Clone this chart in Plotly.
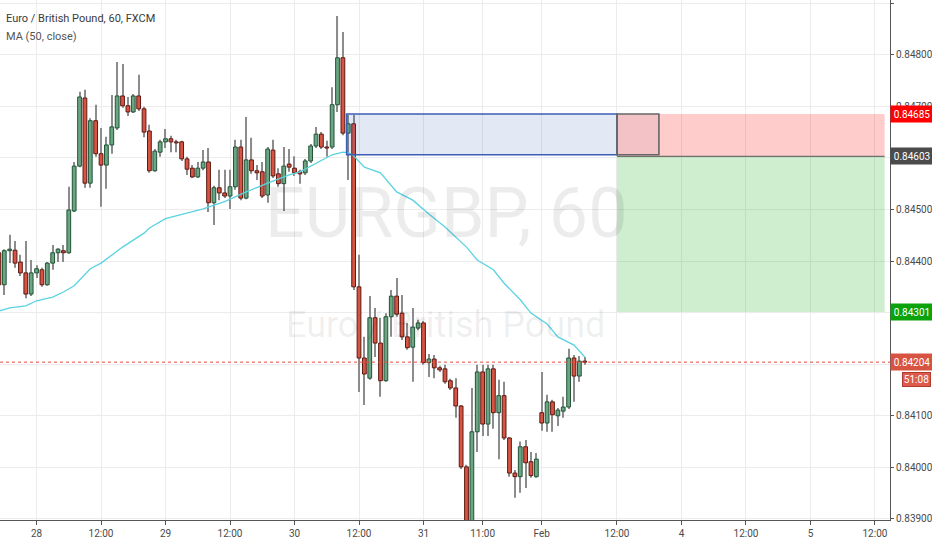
import plotly.graph_objects as go

# hourly EURGBP bars (bar index = hours on chart)
opens = [0.84416, 0.84354, 0.84420, 0.84421, 0.84398, 0.84377, 0.84336, 0.84377, 0.84383, 0.84354,
         0.84396, 0.84416, 0.84420, 0.84416, 0.84497, 0.84584, 0.84716, 0.84551, 0.84672, 0.84608,
         0.84586, 0.84625, 0.84658, 0.84720, 0.84701, 0.84689, 0.84720, 0.84695, 0.84652, 0.84575,
         0.84611, 0.84631, 0.84637, 0.84631, 0.84631, 0.84598, 0.84580, 0.84563, 0.84580, 0.84592,
         0.84513, 0.84542, 0.84532, 0.84526, 0.84544, 0.84621, 0.84522, 0.84596, 0.84575, 0.84573,
         0.84528, 0.84615, 0.84569, 0.84550, 0.84588, 0.84580, 0.84573, 0.84571, 0.84594, 0.84623,
         0.84646, 0.84621, 0.84621, 0.84703, 0.84794, 0.84648, 0.84666, 0.84350, 0.84212, 0.84173,
         0.84290, 0.84241, 0.84168, 0.84292, 0.84332, 0.84299, 0.84253, 0.84233, 0.84270, 0.84280,
         0.84203, 0.84210, 0.84193, 0.84191, 0.84168, 0.84154, 0.84119, 0.84001, 0.83870, 0.84069,
         0.84185, 0.84084, 0.84191, 0.84106, 0.84139, 0.84057, 0.83989, 0.83982, 0.84040, 0.84011,
         0.83982, 0.84106, 0.84086, 0.84127, 0.84100, 0.84109, 0.84117, 0.84212, 0.84177, 0.84206]
highs = [0.84421, 0.84423, 0.84451, 0.84439, 0.84412, 0.84439, 0.84402, 0.84392, 0.84387, 0.84398,
         0.84431, 0.84425, 0.84431, 0.84544, 0.84592, 0.84728, 0.84732, 0.84677, 0.84703, 0.84658,
         0.84641, 0.84722, 0.84786, 0.84782, 0.84718, 0.84724, 0.84761, 0.84699, 0.84664, 0.84617,
         0.84635, 0.84656, 0.84643, 0.84635, 0.84633, 0.84602, 0.84586, 0.84592, 0.84615, 0.84619,
         0.84546, 0.84577, 0.84577, 0.84577, 0.84635, 0.84635, 0.84679, 0.84639, 0.84586, 0.84592,
         0.84621, 0.84635, 0.84580, 0.84621, 0.84617, 0.84603, 0.84577, 0.84598, 0.84627, 0.84660,
         0.84650, 0.84633, 0.84737, 0.84875, 0.84844, 0.84683, 0.84683, 0.84412, 0.84253, 0.84332,
         0.84309, 0.84290, 0.84299, 0.84344, 0.84367, 0.84334, 0.84280, 0.84309, 0.84286, 0.84284,
         0.84220, 0.84218, 0.84197, 0.84199, 0.84172, 0.84173, 0.84121, 0.84005, 0.84154, 0.84199,
         0.84199, 0.84199, 0.84199, 0.84170, 0.84166, 0.84059, 0.83995, 0.84050, 0.84053, 0.84030,
         0.84028, 0.84185, 0.84141, 0.84131, 0.84115, 0.84137, 0.84230, 0.84218, 0.84216, 0.84214]
lows = [0.84344, 0.84334, 0.84396, 0.84387, 0.84371, 0.84328, 0.84332, 0.84367, 0.84350, 0.84352,
        0.84383, 0.84398, 0.84398, 0.84414, 0.84495, 0.84582, 0.84542, 0.84542, 0.84602, 0.84505,
        0.84540, 0.84608, 0.84654, 0.84697, 0.84681, 0.84687, 0.84691, 0.84640, 0.84571, 0.84573,
        0.84602, 0.84619, 0.84611, 0.84611, 0.84594, 0.84567, 0.84561, 0.84561, 0.84576, 0.84495,
        0.84470, 0.84518, 0.84522, 0.84501, 0.84538, 0.84518, 0.84520, 0.84569, 0.84557, 0.84522,
        0.84513, 0.84561, 0.84544, 0.84497, 0.84573, 0.84565, 0.84550, 0.84567, 0.84590, 0.84619,
        0.84617, 0.84602, 0.84617, 0.84689, 0.84644, 0.84557, 0.84344, 0.84146, 0.84121, 0.84170,
        0.84214, 0.84137, 0.84166, 0.84253, 0.84292, 0.84247, 0.84228, 0.84166, 0.84266, 0.84199,
        0.84175, 0.84173, 0.84185, 0.84162, 0.84150, 0.84096, 0.83997, 0.83840, 0.83850, 0.84030,
        0.84061, 0.84061, 0.84075, 0.84016, 0.84053, 0.83982, 0.83941, 0.83951, 0.83960, 0.83980,
        0.83980, 0.84071, 0.84069, 0.84069, 0.84080, 0.84096, 0.84113, 0.84127, 0.84166, 0.84199]
closes = [0.84354, 0.84420, 0.84423, 0.84396, 0.84377, 0.84336, 0.84377, 0.84385, 0.84354, 0.84396,
          0.84416, 0.84423, 0.84416, 0.84499, 0.84584, 0.84718, 0.84551, 0.84672, 0.84608, 0.84586,
          0.84625, 0.84660, 0.84720, 0.84701, 0.84689, 0.84720, 0.84695, 0.84650, 0.84575, 0.84613,
          0.84631, 0.84637, 0.84631, 0.84629, 0.84598, 0.84578, 0.84563, 0.84580, 0.84592, 0.84513,
          0.84542, 0.84532, 0.84526, 0.84544, 0.84621, 0.84522, 0.84596, 0.84575, 0.84571, 0.84526,
          0.84617, 0.84565, 0.84550, 0.84584, 0.84582, 0.84571, 0.84569, 0.84594, 0.84623, 0.84646,
          0.84621, 0.84619, 0.84703, 0.84794, 0.84648, 0.84666, 0.84350, 0.84212, 0.84181, 0.84290,
          0.84241, 0.84168, 0.84292, 0.84332, 0.84297, 0.84253, 0.84232, 0.84272, 0.84280, 0.84203,
          0.84210, 0.84193, 0.84189, 0.84166, 0.84154, 0.84119, 0.84001, 0.83870, 0.84069, 0.84185,
          0.84084, 0.84191, 0.84106, 0.84139, 0.84057, 0.83989, 0.83982, 0.84040, 0.84009, 0.83984,
          0.84016, 0.84086, 0.84127, 0.84102, 0.84111, 0.84117, 0.84212, 0.84177, 0.84206, 0.84204]
bars = list(range(len(opens)))

# MA(50, close) as drawn on the chart, sampled at some bars
ma_bars = [0, 2, 5, 7, 10, 12, 14, 17, 19, 23, 27, 28, 31, 35, 38, 42, 46, 50, 54, 56, 59,
           62, 64, 65, 66, 68, 71, 74, 77, 80, 83, 87, 89, 92, 94, 97, 99, 102, 104, 107, 109]
ma_vals = [0.84303, 0.84309, 0.84313, 0.84323, 0.84330, 0.84340, 0.84352, 0.84385, 0.84396,
           0.84427, 0.84454, 0.84464, 0.84482, 0.84493, 0.84501, 0.84515, 0.84534, 0.84551,
           0.84567, 0.84573, 0.84590, 0.84606, 0.84611, 0.84610, 0.84604, 0.84582, 0.84571,
           0.84534, 0.84518, 0.84491, 0.84466, 0.84427, 0.84402, 0.84383, 0.84357, 0.84325,
           0.84299, 0.84278, 0.84253, 0.84237, 0.84214]

tick_bars = [7, 19, 31, 43, 55, 67, 79, 90, 101, 115, 127, 139, 151, 163]
tick_text = ["28", "12:00", "29", "12:00", "30", "12:00", "31", "11:00", "Feb",
             "12:00", "4", "12:00", "5", "12:00"]

# short position tool
stop = 0.84685
entry = 0.84603
target = 0.84301
last_price = 0.84204
zone_start, zone_end = 115, 164.8
box_start, box_end, box_top, box_bottom = 64.7, 122.8, 0.84685, 0.84606

up_fill, up_line = "#6ba583", "#225437"
dn_fill, dn_line = "#d75442", "#5b1a13"
axis_font = dict(family="Roboto", size=10, color="#4a4a4a")

body_base = [min(o, c) for o, c in zip(opens, closes)]
body_len = [max(abs(c - o), 0.000012) for o, c in zip(opens, closes)]
is_up = [c >= o for o, c in zip(opens, closes)]

fig = go.Figure()
fig.add_trace(go.Bar(x=bars, base=lows, y=[h - l for h, l in zip(highs, lows)],
                     width=0.2, marker=dict(color="#8c8c8c", line=dict(width=0)),
                     hoverinfo="skip", showlegend=False))
fig.add_trace(go.Bar(x=bars, base=body_base, y=body_len, width=0.7,
                     marker=dict(color=[up_fill if u else dn_fill for u in is_up],
                                 line=dict(color=[up_line if u else dn_line for u in is_up], width=1)),
                     showlegend=False))
fig.add_trace(go.Scatter(x=ma_bars, y=ma_vals, mode="lines",
                         line=dict(color="#5ad3e0", width=1.3), showlegend=False))

shapes = [
    dict(type="rect", xref="x", yref="y", x0=zone_start, x1=zone_end, y0=entry, y1=stop,
         fillcolor="rgba(255,0,0,0.2)", line=dict(width=0), layer="between"),
    dict(type="rect", xref="x", yref="y", x0=zone_start, x1=zone_end, y0=target, y1=entry,
         fillcolor="rgba(0,160,0,0.19)", line=dict(width=0), layer="between"),
    dict(type="line", xref="x", yref="y", x0=zone_start, x1=zone_end, y0=entry, y1=entry,
         line=dict(color="#555555", width=1)),
    dict(type="rect", xref="x", yref="y", x0=box_start, x1=zone_start, y0=box_bottom, y1=box_top,
         fillcolor="rgba(57,91,185,0.14)", line=dict(color="#3d5eb5", width=1.6)),
    dict(type="rect", xref="x", yref="y", x0=zone_start, x1=box_end, y0=box_bottom, y1=box_top,
         fillcolor="rgba(150,120,160,0.12)", line=dict(color="#666666", width=1.6)),
    dict(type="line", xref="paper", yref="y", x0=0, x1=1, y0=last_price, y1=last_price,
         line=dict(color="#e84c3d", width=1, dash="dot")),
]

annotations = [
    dict(text="EURGBP, 60", xref="paper", yref="paper", x=0.502, y=0.59, showarrow=False,
         font=dict(family="Roboto", size=70, color="rgba(0,0,0,0.075)")),
    dict(text="Euro / British Pound", xref="paper", yref="paper", x=0.5, y=0.375, showarrow=False,
         font=dict(family="Roboto", size=36, color="rgba(0,0,0,0.075)")),
    dict(text="Euro / British Pound, 60, FXCM", xref="paper", yref="paper", x=0, y=1,
         xanchor="left", yanchor="top", xshift=4, yshift=-10, showarrow=False,
         font=dict(family="Roboto", size=11, color="#3a3a3a")),
    dict(text="MA (50, close)", xref="paper", yref="paper", x=0, y=1,
         xanchor="left", yanchor="top", xshift=4, yshift=-28, showarrow=False,
         font=dict(family="Roboto", size=11, color="#555555")),
]

price_tags = [(stop, "#ff0000"), (entry, "#4b4b4b"), (target, "#0ca20c"), (last_price, "#d75442")]
for price, colour in price_tags:
    annotations.append(dict(text=f"{price:.5f}", xref="paper", yref="y", x=1, y=price,
                            xanchor="left", yanchor="middle", showarrow=False, width=40,
                            height=14, align="center", bgcolor=colour, borderpad=1,
                            font=dict(family="Roboto", size=10, color="white")))
annotations.append(dict(text="51:08", xref="paper", yref="y", x=1, y=last_price, xshift=12,
                        yshift=-17, xanchor="left", yanchor="middle", showarrow=False,
                        width=27, height=13, bgcolor="#dd5a4c", bordercolor="#b03a2e",
                        borderwidth=1, borderpad=0,
                        font=dict(family="Roboto", size=10, color="white")))

fig.update_layout(
    width=932, height=550,
    margin=dict(l=0, r=42, t=0, b=30, autoexpand=False),
    plot_bgcolor="white", paper_bgcolor="white",
    barmode="overlay", showlegend=False,
    shapes=shapes, annotations=annotations,
    xaxis=dict(range=[0.2, 165.8], tickvals=tick_bars, ticktext=tick_text,
               showgrid=True, gridcolor="#ececec", zeroline=False, automargin=False,
               showline=True, linecolor="#555555", ticks="outside", ticklen=4,
               tickcolor="#555555", tickfont=axis_font),
    yaxis=dict(range=[0.83898, 0.84906], side="right", dtick=0.001, tick0=0.839,
               tickformat=".5f", showgrid=True, gridcolor="#ececec", zeroline=False,
               automargin=False, showline=True, linecolor="#555555", ticks="outside",
               ticklen=3, tickcolor="#555555", tickfont=axis_font),
)

# page body has a default 8px margin; drop it so the chart fills the window
fig.write_html("out.html", config={"displayModeBar": False},
               post_script="document.body.style.margin='0';")
